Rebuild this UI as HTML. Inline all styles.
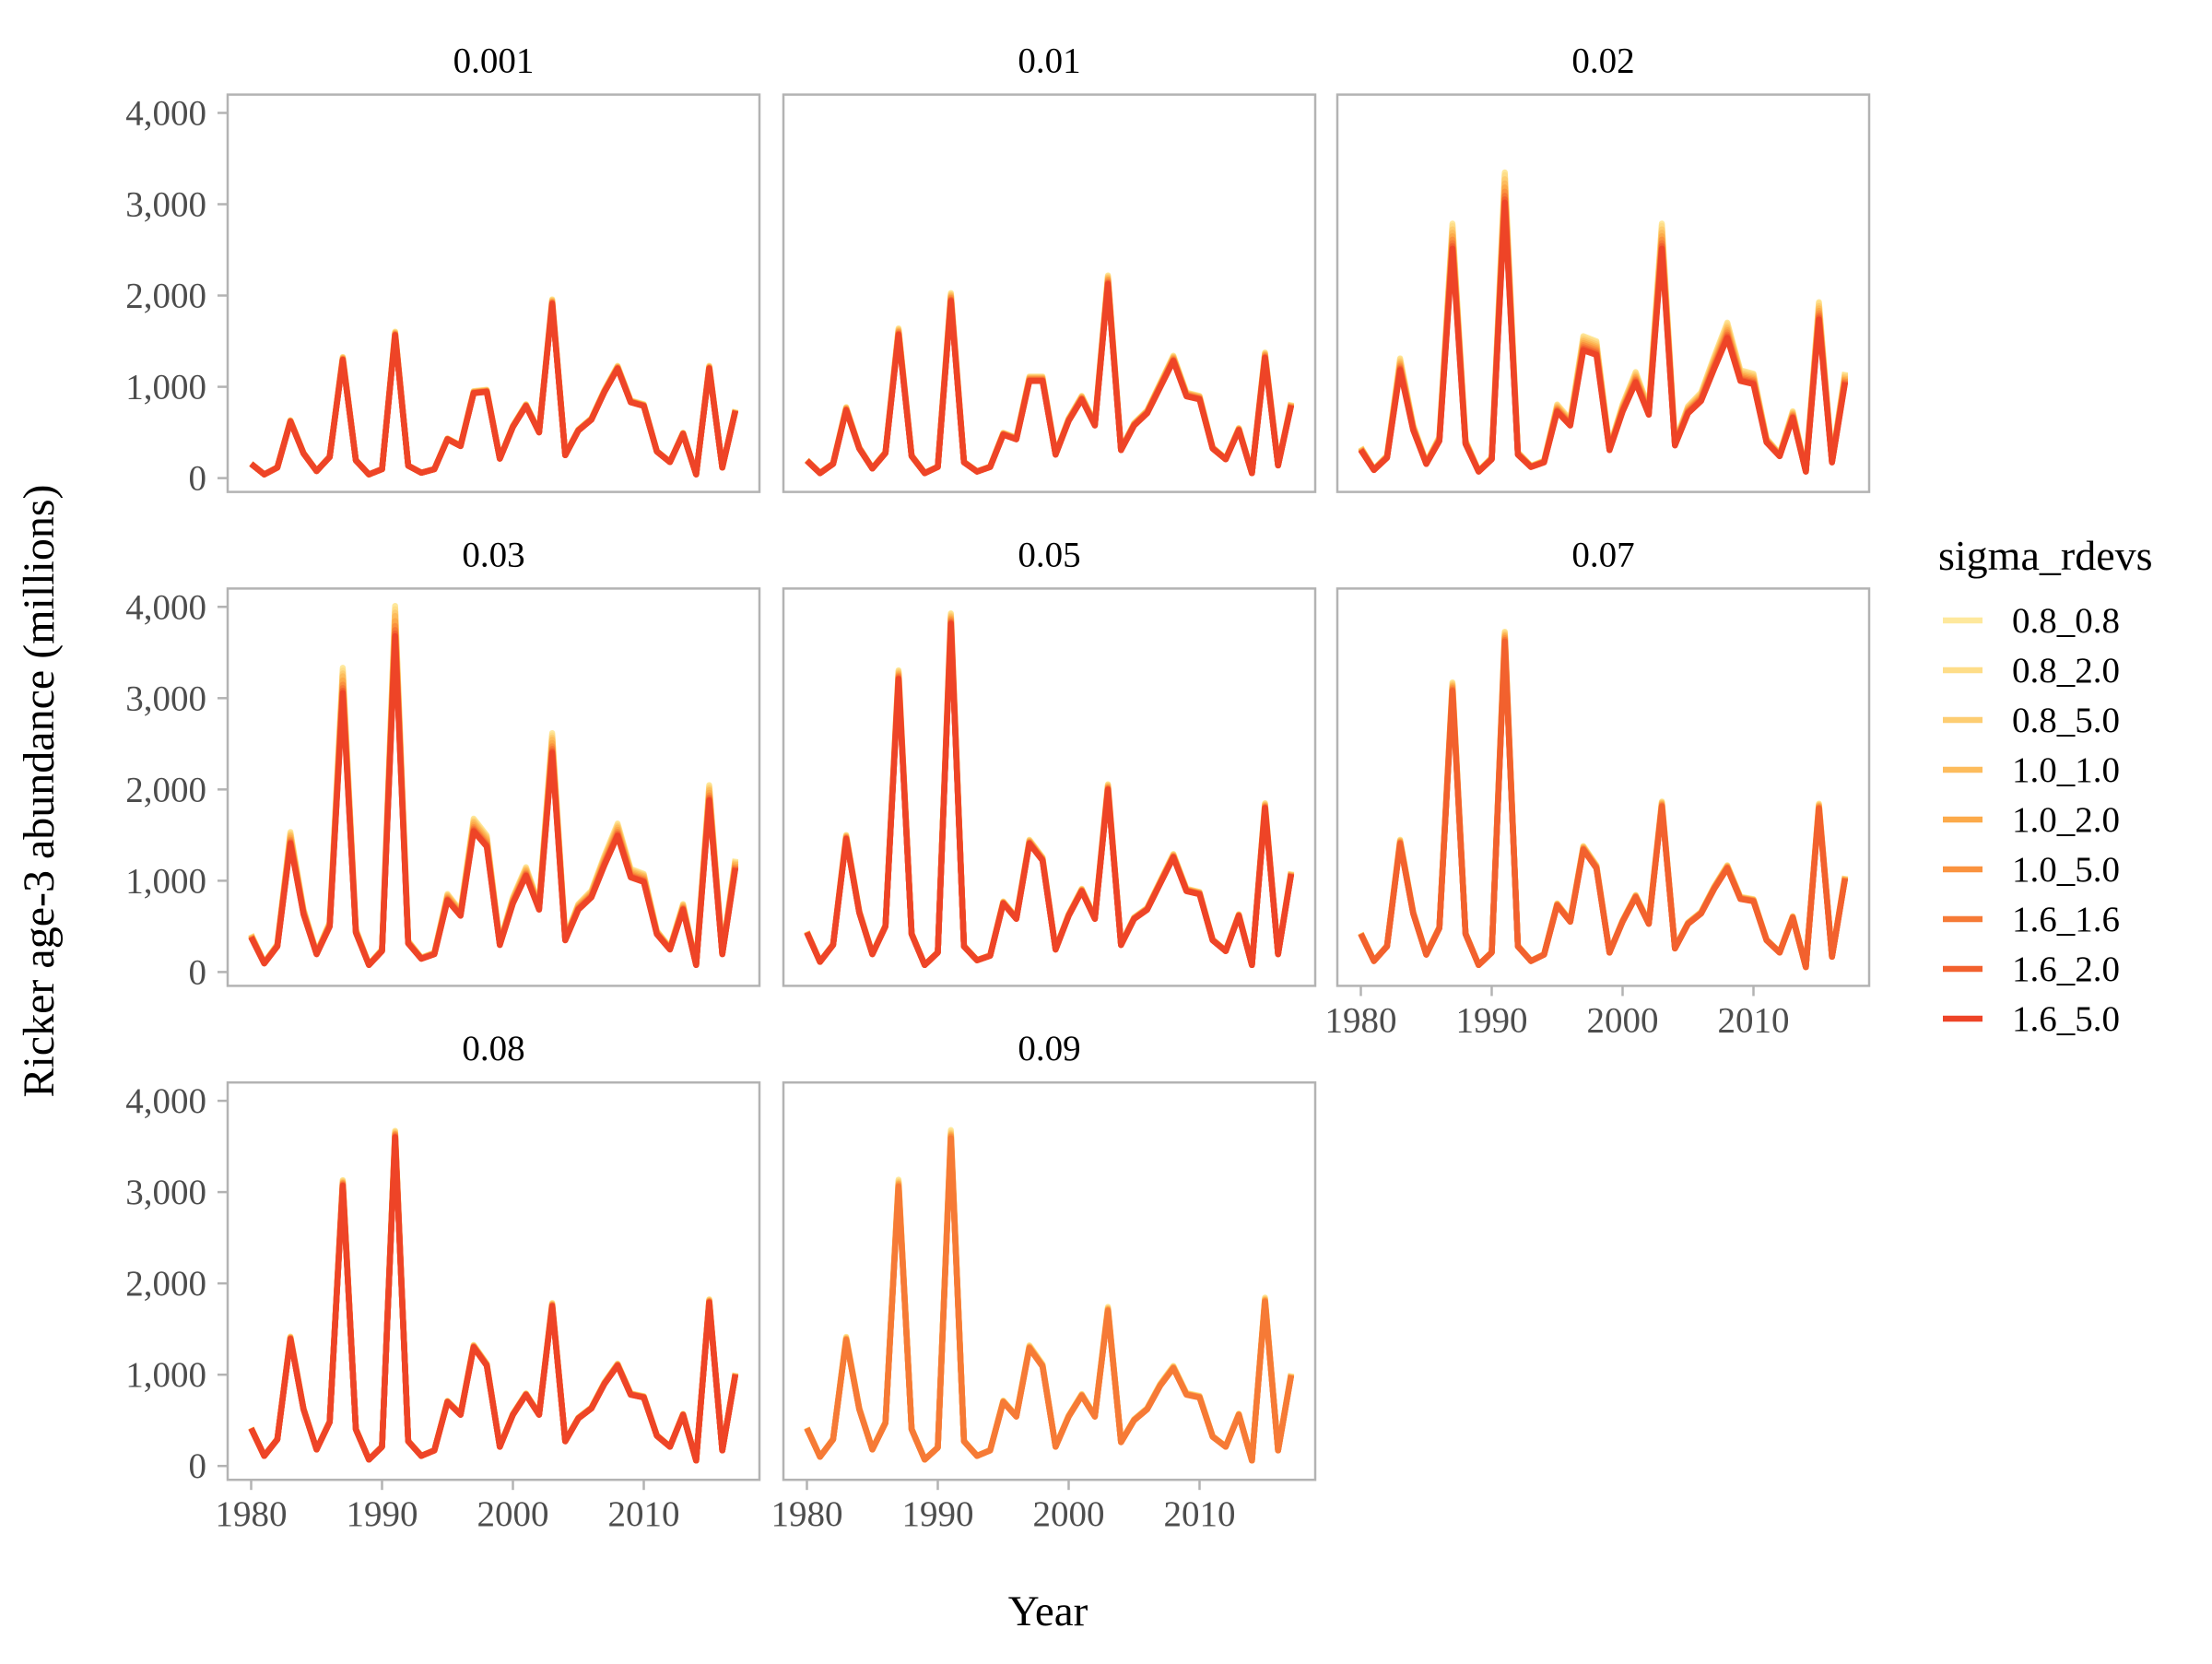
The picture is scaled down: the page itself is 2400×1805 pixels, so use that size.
<!DOCTYPE html>
<html><head><meta charset="utf-8"><style>
html,body{margin:0;padding:0;background:#fff;}
svg text{font-family:"Liberation Serif",serif;}
</style></head><body>
<svg id="chart" width="2400" height="1800" viewBox="0 0 2400 1800" xmlns="http://www.w3.org/2000/svg">
<rect width="2400" height="1800" fill="#fff"/>
<g id="panels"></g>
<text x="0" y="0" transform="translate(58,858) rotate(-90)" font-size="48" text-anchor="middle" fill="#000">Ricker age-3 abundance (millions)</text>
<text x="1137" y="1763" font-size="47" text-anchor="middle" fill="#000">Year</text>
<g id="legend"></g>
</svg>
<script>
const years = [1980,1981,1982,1983,1984,1985,1986,1987,1988,1989,1990,1991,1992,1993,1994,1995,1996,1997,1998,1999,2000,2001,2002,2003,2004,2005,2006,2007,2008,2009,2010,2011,2012,2013,2014,2015,2016,2017];
const panelLabels = ["0.001","0.01","0.02","0.03","0.05","0.07","0.08","0.09"];
const seriesNames = ["0.8_0.8","0.8_2.0","0.8_5.0","1.0_1.0","1.0_2.0","1.0_5.0","1.6_1.6","1.6_2.0","1.6_5.0"];
const seriesColors = ["#FEE89C","#FEDD88","#FDCD72","#FDBC5C","#FCAA4A","#FA923F","#F67A36","#F2612E","#EE4427"];
const yTicks = [0,1000,2000,3000,4000];
const yTickLabels = ["0","1,000","2,000","3,000","4,000"];
const xTicks = [1980,1990,2000,2010];
const xTickLabels = ["1980","1990","2000","2010"];
const base_0_001 = [155,40,115,620,270,77,230,1295,193,40,97,1565,135,58,97,425,350,930,945,212,560,790,500,1910,250,520,640,945,1200,830,790,290,175,485,40,1200,115,735];
const base_0_01 = [189,54,155,744,323,104,273,1569,239,54,121,1939,172,71,121,475,424,1064,1064,256,626,862,576,2125,306,576,710,997,1283,896,862,323,205,525,54,1316,138,795];
const base_0_02 = [306,88,222,1182,525,155,407,2512,374,71,205,3017,256,121,172,727,576,1401,1350,306,727,1047,694,2512,357,710,845,1199,1535,1064,1030,391,239,660,71,1737,172,1047];
const base_0_03 = [380,94,280,1407,633,195,498,3057,431,77,229,3680,313,145,195,785,616,1542,1374,296,751,1054,684,2401,347,684,818,1172,1492,1037,987,414,246,684,77,1879,195,1138];
const base_0_05 = [431,111,296,1458,650,195,498,3209,414,77,212,3815,280,128,178,751,582,1407,1222,246,616,886,582,1997,296,582,683,970,1256,886,852,347,229,616,77,1795,195,1071];
const base_0_07 = [415,120,280,1407,640,190,480,3080,415,77,212,3620,280,120,190,730,550,1340,1136,212,550,820,527,1813,257,527,640,910,1136,800,775,347,212,595,54,1790,167,1023];
const base_0_08 = [410,110,290,1390,620,180,480,3070,400,70,210,3600,270,110,170,700,560,1300,1100,210,560,780,560,1750,270,520,630,900,1100,780,750,330,210,560,60,1790,170,1000];
const base_0_09 = [410,100,290,1380,620,180,470,3060,400,70,200,3590,270,110,170,700,540,1290,1090,210,540,770,540,1700,260,500,620,880,1070,780,750,320,210,560,60,1800,170,990];
const baseSeries = [base_0_001,base_0_01,base_0_02,base_0_03,base_0_05,base_0_07,base_0_08,base_0_09];
// per-panel multiplier of each sigma_rdevs series (null = not present)
const mult_0_001 = [1.025,1.022,1.018,1.015,1.012,1.008,1.005,1.002,1];
const mult_0_01 = [1.045,1.04,1.035,1.03,1.024,1.018,1.01,1.005,1];
const mult_0_02 = [1.11,1.1,1.085,1.07,1.055,1.04,1.025,1.012,1];
const mult_0_03 = [1.09,1.08,1.07,1.06,1.045,1.03,1.018,1.008,1];
const mult_0_05 = [1.03,1.027,1.023,1.019,1.015,1.011,1.007,1.003,1];
const mult_0_07 = [1.03,1.027,1.023,1.019,1.015,1.01,1.005,1,null];
const mult_0_08 = [1.02,1.018,1.015,1.012,1.01,1.008,1.005,1.002,1];
const mult_0_09 = [1.025,1.02,1.016,1.012,1.009,1.005,1,null,null];
const multipliers = [mult_0_001,mult_0_01,mult_0_02,mult_0_03,mult_0_05,mult_0_07,mult_0_08,mult_0_09];

const NS = "http://www.w3.org/2000/svg";
const panelsG = document.getElementById('panels');
const colLeft = [247, 850, 1451];
const rowTop = [102.6, 638.4, 1174.2];
const PW = 577, PH = 431;
function mk(tag, attrs, parent){ const e=document.createElementNS(NS,tag); for(const k in attrs) e.setAttribute(k,attrs[k]); parent.appendChild(e); return e; }

panelLabels.forEach((lab, p) => {
  const col = p % 3, row = Math.floor(p / 3);
  const L = colLeft[col], T = rowTop[row];
  const xs = y => L + 25.5 + (y - 1980) * 14.2;
  const ys = v => T + 416 - v * 0.09903;
  const g = mk('g', {}, panelsG);
  
  
  const title = mk('text', {x: L + PW/2, y: T - 24, 'font-size': 39, 'text-anchor': 'middle', fill: '#000'}, g);
  title.textContent = lab;
  
  
  const clip = mk('clipPath', {id: 'clip' + p}, g);
  mk('rect', {x: L, y: T, width: PW, height: PH}, clip);
  const lines = mk('g', {'clip-path': 'url(#clip' + p + ')'}, g);
  multipliers[p].forEach((m, s) => {
    if (m === null) return;
    const d = baseSeries[p].map((v, i) => (i ? 'L' : 'M') + xs(years[i]).toFixed(1) + ',' + ys(v * m).toFixed(1)).join(' ');
    const path = mk('path', {d: d, fill: 'none', stroke: seriesColors[s], 'stroke-width': 6.5, 'stroke-linejoin': 'round', 'stroke-linecap': 'butt'}, lines);
    
    
  });
  const border = mk('rect', {x: L, y: T, width: PW, height: PH, fill: 'none', stroke: '#b3b3b3', 'stroke-width': 2.5}, g);
  
  
  if (col === 0) {
    yTicks.forEach((t, i) => {
      mk('line', {x1: L - 11, x2: L, y1: ys(t), y2: ys(t), stroke: '#b3b3b3', 'stroke-width': 2.5}, g);
      const tl = mk('text', {x: L - 23, y: ys(t) + 13, 'font-size': 39, 'text-anchor': 'end', fill: '#4d4d4d'}, g);
      tl.textContent = yTickLabels[i];
      
      
    });
  }
  if (row === 2 || (row === 1 && col === 2)) {
    xTicks.forEach((t, i) => {
      mk('line', {x1: xs(t), x2: xs(t), y1: T + PH, y2: T + PH + 11, stroke: '#b3b3b3', 'stroke-width': 2.5}, g);
      const tl = mk('text', {x: xs(t), y: T + PH + 50, 'font-size': 39, 'text-anchor': 'middle', fill: '#4d4d4d'}, g);
      tl.textContent = xTickLabels[i];
      
      
    });
  }
});

const leg = document.getElementById('legend');
const lt = mk('text', {x: 2103, y: 618, 'font-size': 46, fill: '#000'}, leg);
lt.textContent = 'sigma_rdevs';


seriesNames.forEach((n, s) => {
  const y = 673 + s * 54;
  const e = mk('g', {}, leg);
  
  
  mk('line', {x1: 2108, x2: 2151, y1: y, y2: y, stroke: seriesColors[s], 'stroke-width': 6.5}, e);
  const t = mk('text', {x: 2183, y: y + 13, 'font-size': 39, fill: '#000'}, e);
  t.textContent = n;
});
</script>
</body></html>
